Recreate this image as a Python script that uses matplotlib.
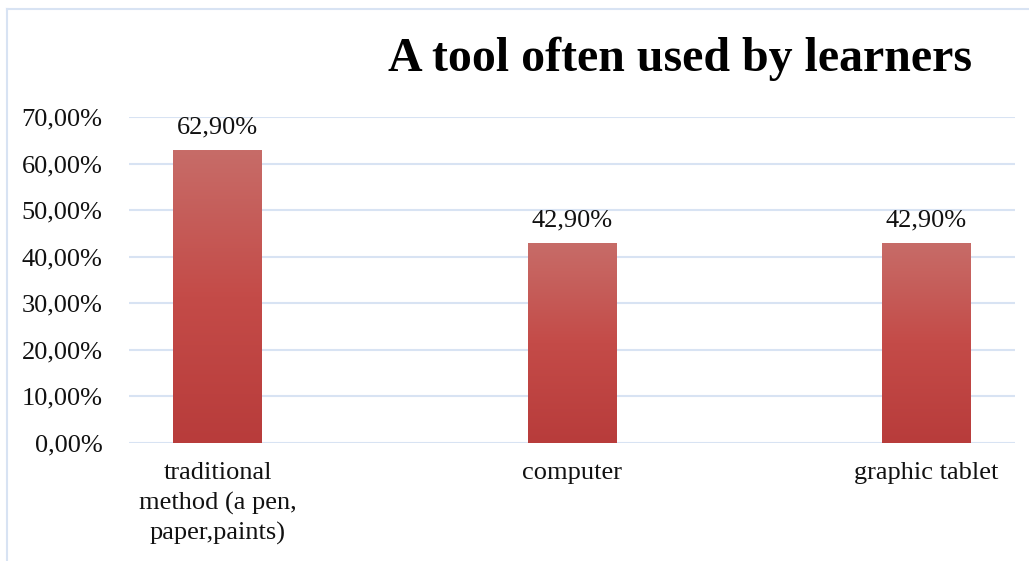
import numpy as np
import matplotlib; matplotlib.use('Agg')
import matplotlib.pyplot as plt
from matplotlib.colors import LinearSegmentedColormap
from matplotlib.lines import Line2D

# --- data
categories = ['traditional\nmethod (a pen,\npaper,paints)', 'computer', 'graphic tablet']
values = [62.9, 42.9, 42.9]
yticks = [0, 10, 20, 30, 40, 50, 60, 70]

# --- style
plt.rcParams['font.family'] = ['Liberation Serif', 'DejaVu Serif']
grid_color = '#D8E3F3'
bar_cmap = LinearSegmentedColormap.from_list('bar', ['#B83C3B', '#C44B48', '#C76C68'])

fig = plt.figure(figsize=(10.29, 5.61), dpi=100)
ax = fig.add_axes([129 / 1029, 1 - 443 / 561, 886 / 1029, 326 / 561])

x = np.arange(len(categories))
bars = ax.bar(x, values, width=0.25, color='#C04846', zorder=2)

# vertical gradient on each bar
grad = np.linspace(0, 1, 256).reshape(-1, 1)
for b in bars:
    x0, w, h = b.get_x(), b.get_width(), b.get_height()
    im = ax.imshow(grad, cmap=bar_cmap, aspect='auto', origin='lower',
                   extent=[x0, x0 + w, 0, h], zorder=3)
    im.set_clip_path(b)

for xi, v in zip(x, values):
    ax.text(xi, v + 2.6, f'{v:.2f}%'.replace('.', ','), ha='center', va='bottom',
            fontsize=19, color='#111111')

ax.set_xlim(-0.25, 2.25)
ax.set_ylim(0, 70)
ax.set_yticks(yticks)
ax.set_yticklabels([f'{t:.2f}%'.replace('.', ',') for t in yticks], fontsize=19)
ax.set_xticks(x)
ax.set_xticklabels(categories, fontsize=19, linespacing=1.4, va='top')
ax.tick_params(axis='both', length=0, colors='#111111')
ax.tick_params(axis='y', pad=19)
ax.tick_params(axis='x', pad=14)
ax.grid(axis='y', color=grid_color, linewidth=1.5, zorder=0)
ax.set_axisbelow(True)
for s in ax.spines.values():
    s.set_visible(False)

ax.set_title('A tool often used by learners', fontsize=34.5, fontweight='bold',
             loc='right', x=0.952, pad=33)

# outer chart border (top and left edge)
fig.add_artist(Line2D([7 / 1029, 1], [1 - 9 / 561, 1 - 9 / 561], color=grid_color, lw=1.5))
fig.add_artist(Line2D([7 / 1029, 7 / 1029], [0, 1 - 9 / 561], color=grid_color, lw=1.5))

plt.savefig('out.png', dpi=100)
